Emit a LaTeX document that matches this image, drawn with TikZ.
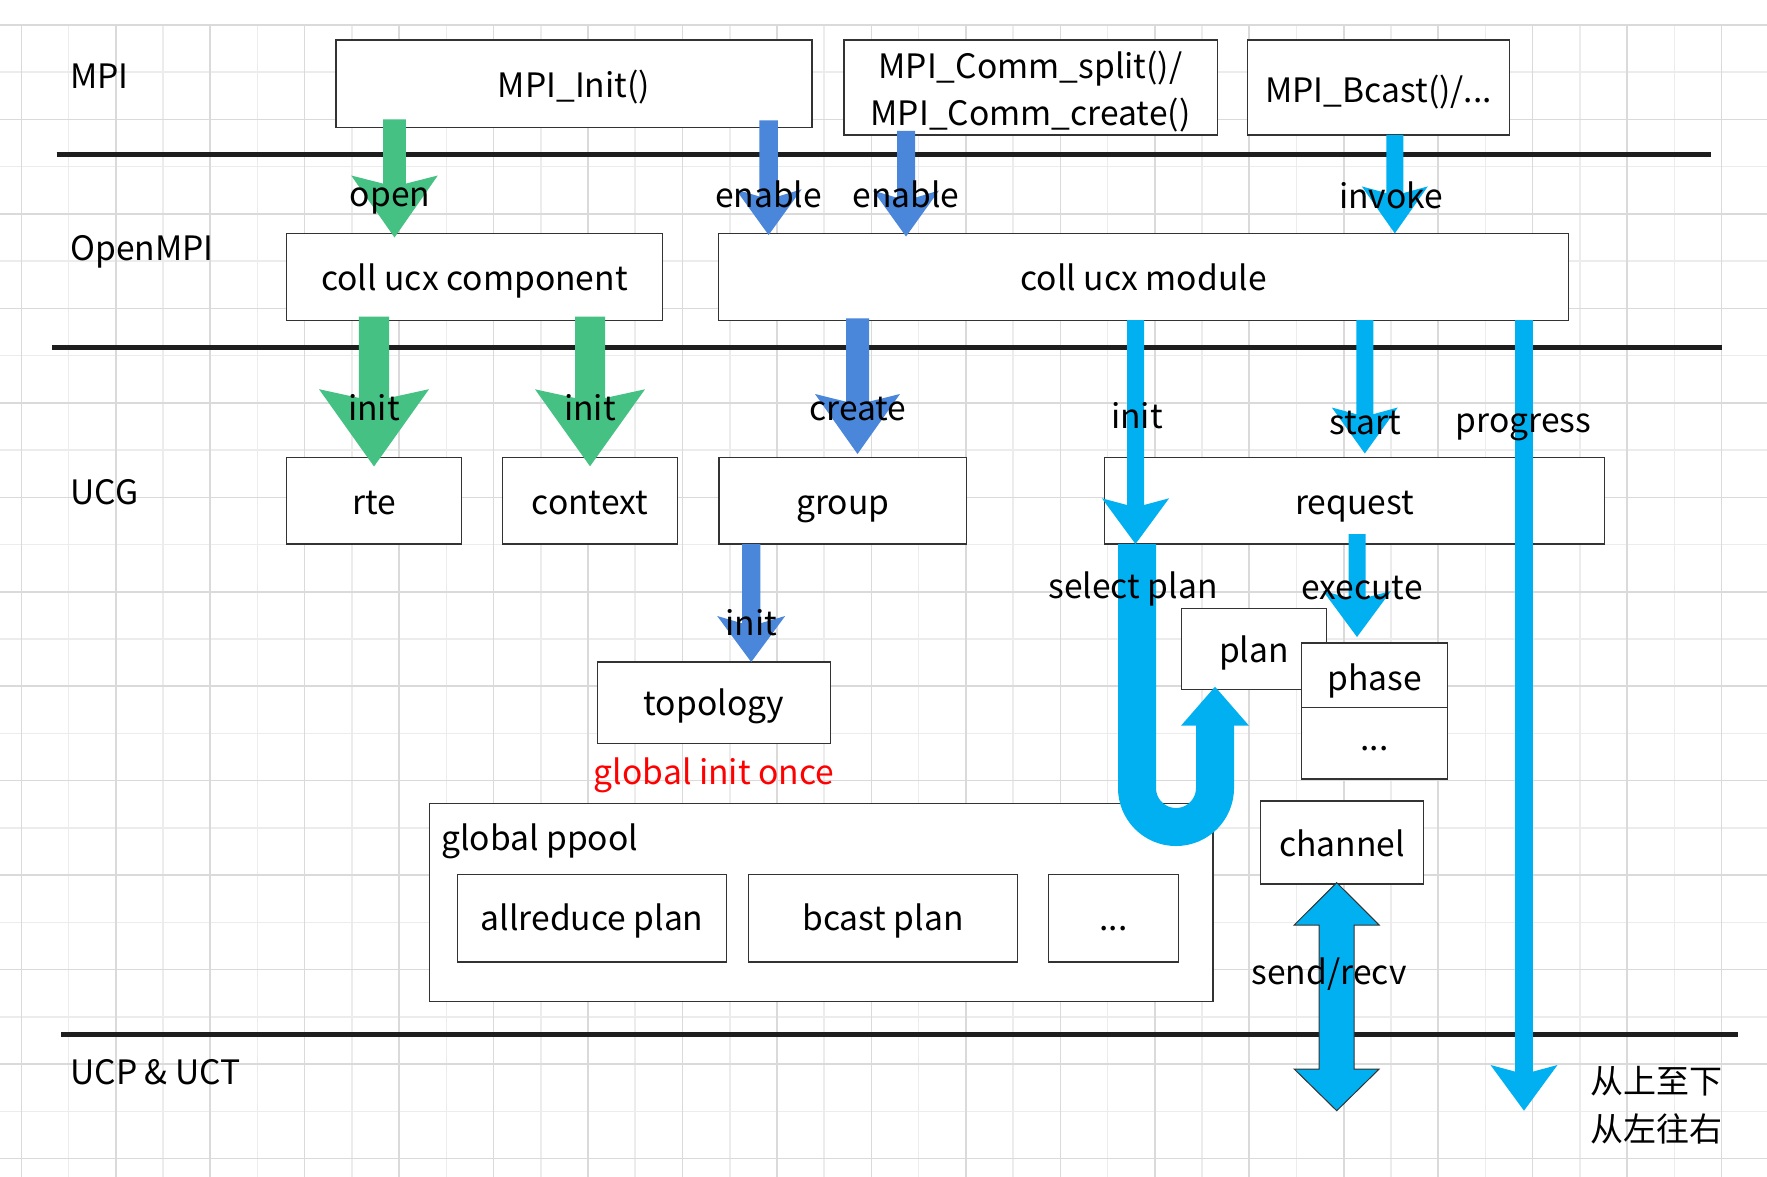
\documentclass[tikz,border=0pt]{standalone}
\usepackage{fontspec}
\setmainfont{Noto Sans CJK SC}
\usetikzlibrary{calc}
\definecolor{gr}{RGB}{69,193,131}
\definecolor{bl}{RGB}{74,134,218}
\definecolor{cy}{RGB}{0,176,240}
\definecolor{boxc}{RGB}{51,51,51}
\definecolor{linec}{RGB}{30,30,30}
\definecolor{gridA}{RGB}{218,218,218}
\definecolor{gridB}{RGB}{236,236,236}
\definecolor{redtxt}{RGB}{255,0,0}
% #1 colour, #2 start, #3 tip, #4 shaft half, #5 head half, #6 head length, #7 inset
\newcommand\blkarrow[7]{%
  \fill[#1] ($(#2)+(-#4,0)$) -- ($(#3)+(-#4,{-#6+#7*(1-#4/#5)})$) -- ($(#3)+(-#5,-#6)$) -- (#3)
    -- ($(#3)+(#5,-#6)$) -- ($(#3)+(#4,{-#6+#7*(1-#4/#5)})$) -- ($(#2)+(#4,0)$) -- cycle;}
\begin{document}
\begin{tikzpicture}[x=0.5pt,y=-0.5pt,
  every node/.style={font=\fontsize{16.8}{20}\selectfont, text=black},
  box/.style={draw=boxc, fill=white, line width=0.75pt, inner sep=0pt, text height=13.6pt, text depth=0pt},
  wh/.style 2 args={minimum width=#1*0.5pt, minimum height=#2*0.5pt},
  lab/.style={anchor=base, inner sep=0pt},
  side/.style={anchor=base west, inner sep=0pt},
  sep/.style={linec, line width=2.5pt}]
\useasboundingbox (0,0) rectangle (1767,1177);
\fill[white] (0,0) rectangle (1767,1177);
% grid
\foreach \k in {1,3,...,35} \draw[gridB, line width=0.8pt] ({21.3+47.23*\k},25) -- ({21.3+47.23*\k},1177);
\foreach \k in {1,3,...,23} \draw[gridB, line width=0.8pt] (0,{25+47.23*\k}) -- (1767,{25+47.23*\k});
\foreach \k in {0,2,...,36} \draw[gridA, line width=0.8pt] ({21.3+47.23*\k},25) -- ({21.3+47.23*\k},1177);
\foreach \k in {0,2,...,24} \draw[gridA, line width=0.8pt] (0,{25+47.23*\k}) -- (1767,{25+47.23*\k});
% layer separators
\coordinate (s1a) at (56.5,154.2); \coordinate (s1b) at (1710.7,154.2);
\coordinate (s2a) at (52.2,347.5); \coordinate (s2b) at (1721.8,347.5);
\coordinate (s3a) at (61.4,1034.5); \coordinate (s3b) at (1738.2,1034.5);
\draw[sep] (s1a) -- (s1b);
\draw[sep] (s2a) -- (s2b);
\draw[sep] (s3a) -- (s3b);
% layer names
\node[side] (lmpi) at (70,88.3) {MPI};
\node[side] (lompi) at (70,260) {OpenMPI};
\node[side] (lucg) at (70,504.4) {UCG};
\node[side] (lucp) at (70,1084.4) {UCP \& UCT};
% boxes
\node[box, wh={476.2}{87.2}] (mpiinit) at (573.9,83.8) {MPI\_Init()};
\node[box, wh={373.9}{94.9}] (mpicomm) at (1030.75,87.65) {};
\node[lab] (mpicomm1) at (1030.5,78.5) {MPI\_Comm\_split()/};
\node[lab] (mpicomm2) at (1030.5,126) {MPI\_Comm\_create()};
\node[box, wh={261.9}{94.9}, text height=14.8pt] (mpibcast) at (1378.65,87.65) {MPI\_Bcast()/...};
\node[box, wh={376}{86.9}] (ccomp) at (474.4,276.85) {coll ucx component};
\node[box, wh={849.9}{86.9}] (cmod) at (1143.55,276.85) {coll ucx module};
\node[box, wh={175.1}{86.9}] (rte) at (373.95,500.75) {rte};
\node[box, wh={175}{86.9}] (context) at (589.8,500.75) {context};
\node[box, wh={247.4}{86.9}] (group) at (842.9,500.75) {group};
\node[box, wh={500.1}{86.9}] (request) at (1354.65,500.75) {request};
\node[box, wh={233.1}{81.8}, text height=12.5pt] (topology) at (714.05,702.8) {topology};
\node[lab, text=redtxt] (once) at (714,784.4) {global init once};
\node[box, wh={783.8}{197.9}] (ppool) at (821.3,902.45) {};
\node[side] (ppooltxt) at (440.8,850.3) {global ppool};
\node[box, wh={269.2}{87.9}, text height=12.2pt] (allred) at (592.1,918.25) {allreduce plan};
\node[box, wh={269}{87.9}, text height=12.2pt] (bcastp) at (883,918.25) {bcast plan};
\node[box, wh={130.1}{87.9}, text height=12pt] (ppdots) at (1113.65,918.25) {...};
\node[box, wh={144.8}{80.7}] (plan) at (1253.9,648.95) {plan};
\node[box, wh={146}{64.3}, text height=15pt] (phase) at (1374.4,675.35) {phase};
\node[box, wh={146}{71.6}, text height=6.7pt] (phdots) at (1374.4,743.3) {...};
\node[box, wh={162.9}{83}] (channel) at (1342.15,842.7) {channel};
% arrow end points
\coordinate (openS) at (394.5,119.4);  \coordinate (openT) at (394.5,237.5);
\coordinate (irS) at (374,316.5);      \coordinate (irT) at (374,466.5);
\coordinate (icS) at (590,316.5);      \coordinate (icT) at (590,466.3);
\coordinate (e1S) at (768.6,120.5);    \coordinate (e1T) at (768.6,235);
\coordinate (e2S) at (906,131);        \coordinate (e2T) at (906,236.5);
\coordinate (crS) at (857.5,318.3);    \coordinate (crT) at (857.5,454);
\coordinate (itS) at (751.2,544);      \coordinate (itT) at (751.2,662);
\coordinate (ivS) at (1394.8,135);     \coordinate (ivT) at (1394.8,233.4);
\coordinate (iqS) at (1135.5,320);     \coordinate (iqT) at (1135.5,544);
\coordinate (stS) at (1364.8,320);     \coordinate (stT) at (1364.8,453.5);
\coordinate (prS) at (1524,320);       \coordinate (prT) at (1524,1110.7);
\coordinate (exS) at (1357,534);       \coordinate (exT) at (1357,637);
\coordinate (uS) at (1137,544);        \coordinate (uT) at (1215,686.7);
\coordinate (srT) at (1336.7,882.7);   \coordinate (srB) at (1336.7,1110.7);
% green arrows
\blkarrow{gr}{openS}{openT}{11.3}{43.3}{62}{11}
\blkarrow{gr}{irS}{irT}{15.2}{55}{77.3}{12}
\blkarrow{gr}{icS}{icT}{15}{55}{77}{12}
% blue arrows
\blkarrow{bl}{e1S}{e1T}{9.2}{33}{45.7}{10}
\blkarrow{bl}{e2S}{e2T}{9}{33}{46}{10}
\blkarrow{bl}{crS}{crT}{11.5}{42.5}{60}{10.5}
\blkarrow{bl}{itS}{itT}{9.2}{34}{46}{10}
% cyan arrows
\blkarrow{cy}{ivS}{ivT}{8.5}{33}{47}{9}
\blkarrow{cy}{iqS}{iqT}{8.5}{33.6}{45.7}{9}
\blkarrow{cy}{stS}{stT}{8.5}{33}{46}{9}
\blkarrow{cy}{prS}{prT}{8.8}{33.5}{45.7}{9}
\blkarrow{cy}{exS}{exT}{8.5}{34}{46}{9}
% U-turn arrow (select plan)
\draw[cy, line width=19pt] (uS) -- (1137,788) arc[start angle=180, end angle=0, radius=39] -- (1215,722);
\fill[cy] ($(uT)+(-34,39)$) -- (uT) -- ($(uT)+(34,39)$) -- cycle;
% send/recv double arrow
\filldraw[fill=cy, draw=boxc, line width=0.5pt] (srT) -- ($(srT)+(42.5,42.3)$) -- ($(srT)+(17.5,42.3)$)
  -- ($(srB)+(17.5,-41.7)$) -- ($(srB)+(42.5,-41.7)$) -- (srB) -- ($(srB)+(-42.5,-41.7)$)
  -- ($(srB)+(-17.5,-41.7)$) -- ($(srT)+(-17.5,42.3)$) -- ($(srT)+(-42.5,42.3)$) -- cycle;
% arrow labels
\node[lab] (lopen) at (390,206.7) {open};
\node[lab] (len1) at (768.5,207.3) {enable};
\node[lab] (len2) at (906,207.3) {enable};
\node[lab] (linv) at (1391,208.6) {invoke};
\node[lab] (lir) at (374,420.7) {init};
\node[lab] (lic) at (590,420.7) {init};
\node[lab] (lcr) at (857.8,420) {create};
\node[lab] (liq) at (1137,428.6) {init};
\node[lab] (lst) at (1365,434.4) {start};
\node[lab] (lpr) at (1523.5,432.5) {progress};
\node[lab] (lsel) at (1133,598.3) {select plan};
\node[lab] (lex) at (1362,599) {execute};
\node[lab] (lit) at (751.5,635.2) {init};
\node[lab] (lsr) at (1329,984) {send/recv};
% note
\node[side, font=\fontsize{16.5}{20}\selectfont] (note1) at (1590,1093) {从上至下};
\node[side, font=\fontsize{16.5}{20}\selectfont] (note2) at (1590,1141) {从左往右};
\end{tikzpicture}
\end{document}
